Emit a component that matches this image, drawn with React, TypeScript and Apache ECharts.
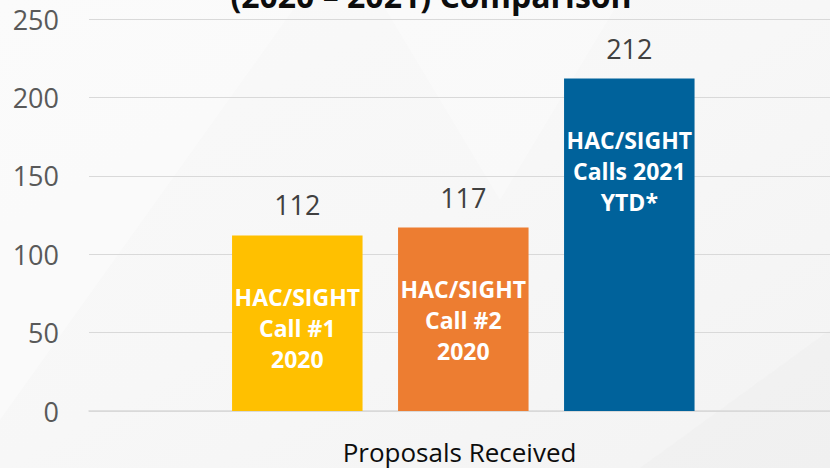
import React, { useEffect, useRef } from "react";
import * as echarts from "echarts";

const axisCategory = ["Proposals Received"];
const barNames = [
  "HAC/SIGHT\nCall #1\n2020",
  "HAC/SIGHT\nCall #2\n2020",
  "HAC/SIGHT\nCalls 2021\nYTD*",
];
const barValues = [112, 117, 212];
const barColors = ["#FFC000", "#ED7D31", "#00629B"];
const yMin = 0;
const yMax = 250;
const yInterval = 50;
const titleText = "(2020 – 2021) Comparison";

const FONT = "'Open Sans', 'Noto Sans', sans-serif";

export default function App() {
  const ref = useRef<HTMLDivElement>(null);
  useEffect(() => {
    if (!ref.current) return;
    const chart = echarts.init(ref.current, undefined, { renderer: "svg" });
    chart.setOption({
      animation: false,
      backgroundColor: {
        type: "linear",
        x: 0,
        y: 0,
        x2: 1,
        y2: 1,
        colorStops: [
          { offset: 0, color: "#f9f9f9" },
          { offset: 0.5, color: "#f7f7f7" },
          { offset: 1, color: "#f3f3f3" },
        ],
      },
      graphic: [
        {
          type: "polygon",
          z: -10,
          silent: true,
          shape: { points: [[0, 0], [300, 0], [0, 420]] },
          style: { fill: "rgba(255,255,255,0.35)" },
        },
        {
          type: "polygon",
          z: -10,
          silent: true,
          shape: { points: [[830, 330], [830, 468], [640, 468]] },
          style: { fill: "rgba(235,235,235,0.3)" },
        },
        {
          type: "polygon",
          z: -10,
          silent: true,
          shape: { points: [[380, 0], [620, 0], [500, 200]] },
          style: { fill: "rgba(255,255,255,0.3)" },
        },
        {
          type: "text",
          x: 431,
          y: -5,
          style: {
            text: titleText,
            fill: "#0d0d0d",
            font: `bold 32px ${FONT}`,
            align: "center",
            verticalAlign: "middle",
          },
        },
      ],
      grid: [
        { left: 89, right: -8, top: 19, bottom: 57 },
        { left: 214.3, width: 498, top: 19, bottom: 57 },
      ],
      xAxis: [
        {
          type: "category",
          gridIndex: 0,
          data: axisCategory,
          axisLine: { show: true, lineStyle: { color: "#d9d9d9", width: 1.5 } },
          axisTick: { show: false },
          axisLabel: {
            color: "#0d0d0d",
            fontSize: 26,
            fontFamily: FONT,
            margin: 28,
          },
          splitLine: { show: false },
        },
        {
          type: "category",
          gridIndex: 1,
          data: barNames,
          show: false,
        },
      ],
      yAxis: [
        {
          type: "value",
          gridIndex: 0,
          min: yMin,
          max: yMax,
          interval: yInterval,
          axisLine: { show: false },
          axisTick: { show: false },
          axisLabel: {
            color: "#595959",
            fontSize: 27,
            fontFamily: FONT,
            margin: 30,
          },
          splitLine: { lineStyle: { color: "#d9d9d9", width: 1.2 } },
        },
        {
          type: "value",
          gridIndex: 1,
          min: yMin,
          max: yMax,
          interval: yInterval,
          show: false,
          splitLine: { show: false },
        },
      ],
      series: [
        {
          type: "bar",
          xAxisIndex: 1,
          yAxisIndex: 1,
          barWidth: 130.5,
          data: barValues.map((v, i) => ({
            value: v,
            itemStyle: { color: barColors[i] },
          })),
          label: {
            show: true,
            position: ["50%", 46],
            align: "center",
            verticalAlign: "top",
            formatter: "{b}",
            color: "#ffffff",
            fontWeight: "bold",
            fontSize: 23,
            lineHeight: 31,
            fontFamily: FONT,
          },
        },
        {
          type: "bar",
          xAxisIndex: 1,
          yAxisIndex: 1,
          barWidth: 130.5,
          barGap: "-100%",
          silent: true,
          itemStyle: { color: "rgba(0,0,0,0)" },
          data: barValues,
          label: {
            show: true,
            position: "top",
            distance: 17,
            formatter: "{c}",
            color: "#404040",
            fontSize: 27,
            fontFamily: FONT,
          },
        },
      ],
    });
    return () => chart.dispose();
  }, []);
  return (
    <div
      ref={ref}
      style={{ position: "absolute", left: 0, top: 0, width: 830, height: 468 }}
    />
  );
}
